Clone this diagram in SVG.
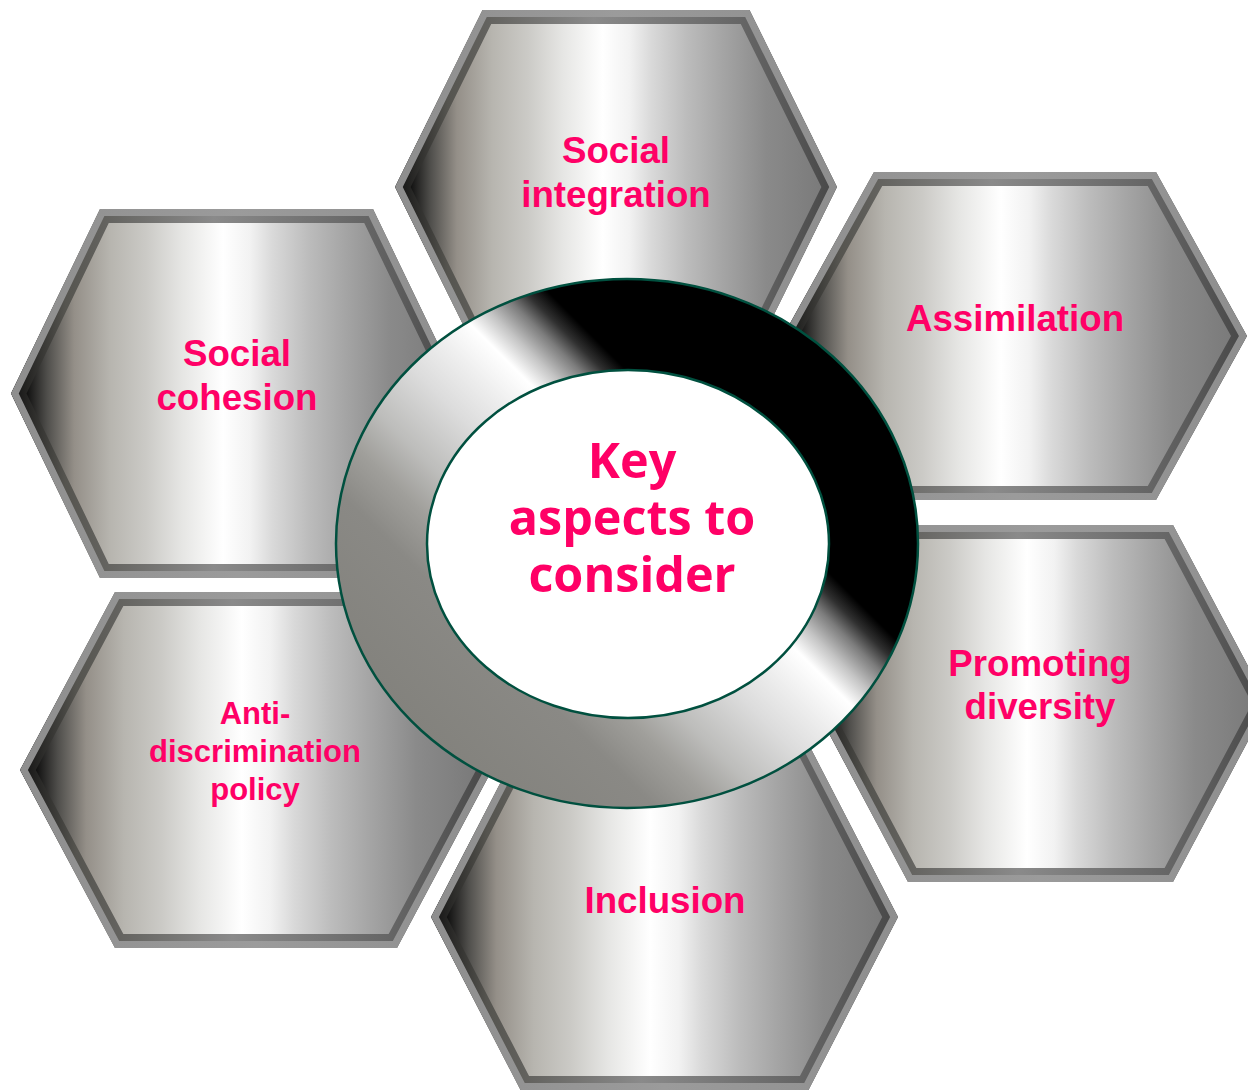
<svg xmlns="http://www.w3.org/2000/svg" xmlns:xlink="http://www.w3.org/1999/xlink" width="1248" height="1092" viewBox="0 0 1248 1092">
  <style>
    .hf { fill: url(#gFill); stroke: url(#gDark); stroke-width: 28; stroke-linejoin: miter; }
    .hl { fill: none; stroke: url(#gLight); stroke-width: 14; stroke-linejoin: miter; }
    .lbl { font-family: "Liberation Sans", Arial, sans-serif; font-weight: bold; font-size: 36.7px; fill: #ff0066; text-anchor: middle; }
    .lbl-s { font-size: 31px; }
    .ctr { font-family: "Open Sans", "Noto Sans", sans-serif; font-weight: bold; font-size: 48.5px; fill: #ff0066; text-anchor: middle; }
    .ring { stroke: #00503f; stroke-width: 2.5; }
  </style>
  <defs>
    <linearGradient id="gFill" x1="0" y1="0" x2="1" y2="0">
      <stop offset="0" stop-color="#000000"/>
      <stop offset="0.03" stop-color="#0a0a0a"/>
      <stop offset="0.08" stop-color="#4f4e4b"/>
      <stop offset="0.14" stop-color="#948f88"/>
      <stop offset="0.22" stop-color="#b7b5af"/>
      <stop offset="0.30" stop-color="#cbcac6"/>
      <stop offset="0.38" stop-color="#e6e6e4"/>
      <stop offset="0.47" stop-color="#ffffff"/>
      <stop offset="0.53" stop-color="#f2f2f2"/>
      <stop offset="0.58" stop-color="#d9d9d9"/>
      <stop offset="0.66" stop-color="#bcbcbc"/>
      <stop offset="0.74" stop-color="#a5a5a5"/>
      <stop offset="0.84" stop-color="#8a8a8a"/>
      <stop offset="1" stop-color="#767676"/>
    </linearGradient>
    <linearGradient id="gDark" x1="0" y1="0" x2="1" y2="0">
      <stop offset="0" stop-color="#111111"/>
      <stop offset="0.12" stop-color="#55544f"/>
      <stop offset="0.45" stop-color="#8a8a8a"/>
      <stop offset="0.85" stop-color="#5e5e5e"/>
      <stop offset="1" stop-color="#474747"/>
    </linearGradient>
    <linearGradient id="gLight" x1="0" y1="0" x2="1" y2="0">
      <stop offset="0" stop-color="#8e8e8e"/>
      <stop offset="0.5" stop-color="#9b9b9b"/>
      <stop offset="1" stop-color="#8e8e8e"/>
    </linearGradient>
    <linearGradient id="gRing" gradientUnits="userSpaceOnUse" x1="430.4" y1="740.1" x2="823.6" y2="346.9">
      <stop offset="0" stop-color="#83827d"/>
      <stop offset="0.2" stop-color="#8a8985"/>
      <stop offset="0.28" stop-color="#a09f9b"/>
      <stop offset="0.35" stop-color="#bdbdbb"/>
      <stop offset="0.45" stop-color="#dcdcdc"/>
      <stop offset="0.52" stop-color="#eeeeee"/>
      <stop offset="0.58" stop-color="#ffffff"/>
      <stop offset="0.62" stop-color="#c4c4c4"/>
      <stop offset="0.66" stop-color="#7c7c7c"/>
      <stop offset="0.69" stop-color="#303030"/>
      <stop offset="0.72" stop-color="#000000"/>
      <stop offset="1" stop-color="#000000"/>
    </linearGradient>
    <polygon id="p-si" points="395,187 482.5,10 749.5,10 837,187 749.5,364 482.5,364"/>
    <polygon id="p-sc" points="11,393.5 100,209 373,209 462,393.5 373,578 100,578"/>
    <polygon id="p-as" points="783,336 874,172 1156,172 1247,336 1156,500 874,500"/>
    <polygon id="p-pd" points="813,703.5 908,525 1173,525 1268,703.5 1173,882 908,882"/>
    <polygon id="p-in" points="431,917 520.5,744 808.5,744 898,917 808.5,1090 520.5,1090"/>
    <polygon id="p-ad" points="20,770 115,592 397,592 492,770 397,948 115,948"/>
    <clipPath id="c-si"><use xlink:href="#p-si"/></clipPath>
    <clipPath id="c-sc"><use xlink:href="#p-sc"/></clipPath>
    <clipPath id="c-as"><use xlink:href="#p-as"/></clipPath>
    <clipPath id="c-pd"><use xlink:href="#p-pd"/></clipPath>
    <clipPath id="c-in"><use xlink:href="#p-in"/></clipPath>
    <clipPath id="c-ad"><use xlink:href="#p-ad"/></clipPath>
  </defs>

  <rect width="1248" height="1092" fill="#ffffff"/>

  <g id="node-social-integration">
    <g clip-path="url(#c-si)"><use xlink:href="#p-si" class="hf"/><use xlink:href="#p-si" class="hl"/></g>
    <text class="lbl" x="616" y="163">Social</text>
    <text class="lbl" x="616" y="207">integration</text>
  </g>
  <g id="node-social-cohesion">
    <g clip-path="url(#c-sc)"><use xlink:href="#p-sc" class="hf"/><use xlink:href="#p-sc" class="hl"/></g>
    <text class="lbl" x="237" y="366">Social</text>
    <text class="lbl" x="237" y="410">cohesion</text>
  </g>
  <g id="node-assimilation">
    <g clip-path="url(#c-as)"><use xlink:href="#p-as" class="hf"/><use xlink:href="#p-as" class="hl"/></g>
    <text class="lbl" x="1015" y="331">Assimilation</text>
  </g>
  <g id="node-promoting-diversity">
    <g clip-path="url(#c-pd)"><use xlink:href="#p-pd" class="hf"/><use xlink:href="#p-pd" class="hl"/></g>
    <text class="lbl" x="1040" y="676">Promoting</text>
    <text class="lbl" x="1040" y="719">diversity</text>
  </g>
  <g id="node-inclusion">
    <g clip-path="url(#c-in)"><use xlink:href="#p-in" class="hf"/><use xlink:href="#p-in" class="hl"/></g>
    <text class="lbl" x="665" y="913">Inclusion</text>
  </g>
  <g id="node-anti-discrimination">
    <g clip-path="url(#c-ad)"><use xlink:href="#p-ad" class="hf"/><use xlink:href="#p-ad" class="hl"/></g>
    <text class="lbl lbl-s" x="255" y="724">Anti-</text>
    <text class="lbl lbl-s" x="255" y="762">discrimination</text>
    <text class="lbl lbl-s" x="255" y="800">policy</text>
  </g>

  <g id="connectors"/>

  <g id="node-center">
    <ellipse class="ring" cx="627" cy="543.5" rx="291" ry="264.5" fill="url(#gRing)"/>
    <ellipse class="ring" cx="628" cy="544" rx="201" ry="174" fill="#ffffff"/>
    <text class="ctr" x="632" y="478">Key</text>
    <text class="ctr" x="632" y="535">aspects to</text>
    <text class="ctr" x="632" y="592">consider</text>
  </g>
</svg>
